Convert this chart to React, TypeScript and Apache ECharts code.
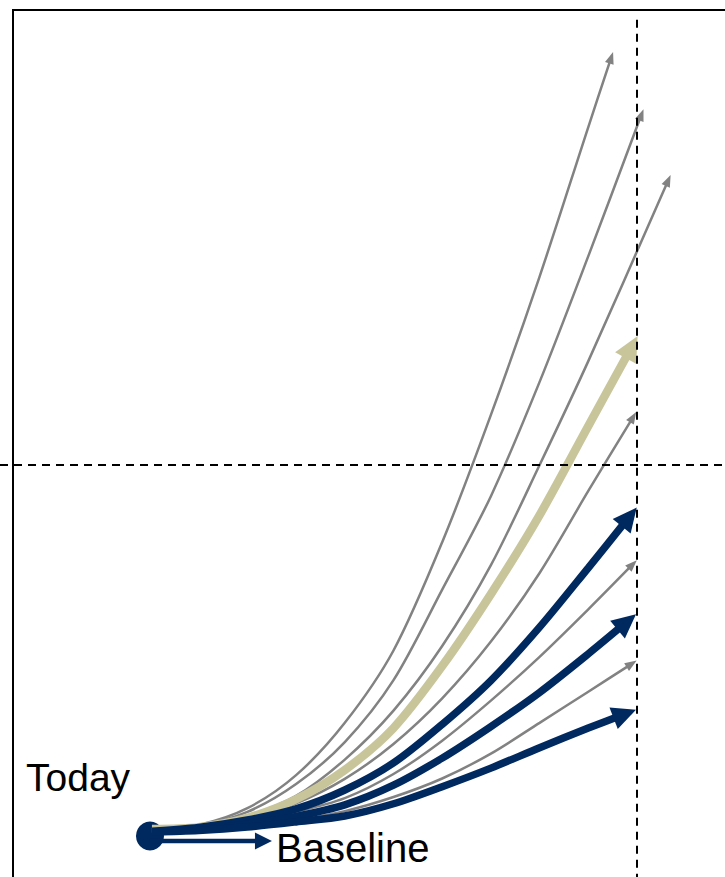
import React, { useEffect, useRef } from "react";
import * as echarts from "echarts";

// Axis ranges (arbitrary units: time on x, value on y)
const X_MIN = -3.08;
const X_MAX = 11.807;
const Y_MIN = -11.05;
const Y_MAX = 225.34;
const HORIZON = 10; // vertical dashed line (time horizon)
const THRESHOLD = 100; // horizontal dashed line
const V_LINE_TOP = 220;

const labels = { today: "Today", baseline: "Baseline" };

// Scenario paths (x = time, y = value)
const grayA = [[0.04, 1.9], [1, 3.0], [2, 7.5], [3, 16.4], [4, 30.5], [5, 50.0], [6, 79.2], [7, 113.5], [8, 150.8], [9, 191.1], [9.47, 209.8]];
const grayB = [[0.04, 1.9], [1, 2.8], [2, 6.5], [3, 14.0], [4, 25.3], [5, 42.0], [6, 66.4], [7, 91.6], [8, 122.4], [9, 156.3], [10.09, 194.4]];
const grayC = [[0.04, 1.9], [1, 2.5], [2, 5.4], [3, 10.8], [4, 20.6], [5, 33.8], [6, 51.2], [7, 73.0], [8, 100], [9, 128.0], [10.64, 176.7]];
const khakiPath = [[0.04, 1.9], [1, 2.4], [2, 4.9], [3, 9.9], [4, 17.8], [5, 29.1], [6, 45.8], [7, 65.2], [8, 86.5], [9, 110.5], [9.89, 131.8]];
const grayD = [[0.04, 1.9], [1, 2.4], [2, 4.6], [3, 8.8], [4, 15.4], [5, 24.8], [6, 37.1], [7, 52.4], [8, 70.9], [9, 93.0], [9.92, 112.9]];
const navyA = [[0.04, 1.3], [1, 2.3], [2, 4.3], [3, 7.3], [4, 12.4], [5, 19.7], [6, 30.1], [7, 41.9], [8, 56.3], [9, 72.3], [9.84, 86.0]];
const grayE = [[0.04, 1.3], [1, 2.2], [2, 3.9], [3, 6.5], [4, 10.2], [5, 16.7], [6, 25.7], [7, 36.5], [8, 48.3], [9, 61.1], [9.91, 73.2]];
const navyB = [[0.04, 1.1], [1, 1.8], [2, 3.2], [3, 5.3], [4, 8.4], [5, 13.7], [6, 21.0], [7, 29.5], [8, 38.7], [9, 49.1], [9.79, 57.7]];
const grayF = [[0.04, 1.1], [1, 1.6], [2, 2.7], [3, 4.3], [4, 6.7], [5, 10.5], [6, 15.5], [7, 22.2], [8, 30.5], [9, 38.9], [9.89, 46.4]];
const navyC = [[0.04, 1.1], [1, 1.5], [2, 2.4], [3, 3.8], [4, 5.4], [5, 8.7], [6, 13.3], [7, 18.3], [8, 23.8], [9, 29.1], [9.75, 32.9]];
const baselinePath = [[0, -1.35], [2.33, -1.35]];
const todayPoint = [[0, 0]];

const GRAY = "#828282";
const KHAKI = "#C9C59B";
const NAVY = "#00295F";

const curves = [
  { data: grayA, color: GRAY, width: 2.5, head: [9, 12], z: 2 },
  { data: grayB, color: GRAY, width: 2.5, head: [9, 12], z: 2 },
  { data: grayC, color: GRAY, width: 2.5, head: [9, 12], z: 2 },
  { data: grayD, color: GRAY, width: 2.5, head: [9, 12], z: 2 },
  { data: grayE, color: GRAY, width: 2.5, head: [9, 12], z: 2 },
  { data: grayF, color: GRAY, width: 2.5, head: [9, 12], z: 2 },
  { data: khakiPath, color: KHAKI, width: 8.5, head: [24, 25], z: 3 },
  { data: navyA, color: NAVY, width: 7.5, head: [23, 24], z: 4 },
  { data: navyB, color: NAVY, width: 7.5, head: [23, 24], z: 4 },
  { data: navyC, color: NAVY, width: 7.5, head: [23, 24], z: 4 },
  { data: baselinePath, color: NAVY, width: 4.5, head: [17, 17], z: 4, straight: true },
];

function buildOption(rots: number[]) {
  const lineSeries = curves.map((c, i) => ({
    type: "line",
    silent: true,
    smooth: c.straight ? false : 0.3,
    symbol: "triangle",
    showSymbol: true,
    showAllSymbol: true,
    z: c.z,
    lineStyle: { color: c.color, width: c.width, cap: "butt" },
    itemStyle: { color: c.color, borderWidth: 0, opacity: 1 },
    data: c.data.map((p, j) =>
      j === c.data.length - 1
        ? { value: p, symbol: "triangle", symbolSize: c.head, symbolRotate: rots[i] || 0 }
        : { value: p, symbol: "none" }
    ),
  }));
  const font = (s: number) => `${s}px "Liberation Sans", Arial, sans-serif`;
  return {
    animation: false,
    backgroundColor: "#ffffff",
    grid: { left: 0, right: 0, top: 0, bottom: 0 },
    xAxis: { type: "value", min: X_MIN, max: X_MAX, show: false },
    yAxis: { type: "value", min: Y_MIN, max: Y_MAX, show: false },
    graphic: [
      {
        type: "rect",
        z: 0,
        silent: true,
        shape: { x: 13, y: 10, width: 800, height: 900 },
        style: { fill: "none", stroke: "#000", lineWidth: 2 },
      },
      {
        type: "text",
        x: 26,
        y: 777,
        silent: true,
        style: { text: labels.today, font: font(39), fill: "#000", align: "left", verticalAlign: "middle" },
      },
      {
        type: "text",
        x: 276,
        y: 848,
        silent: true,
        style: { text: labels.baseline, font: font(40), fill: "#000", align: "left", verticalAlign: "middle" },
      },
    ],
    series: [
      {
        type: "scatter",
        silent: true,
        z: 1,
        symbol: "circle",
        symbolSize: [28, 29],
        itemStyle: { color: NAVY, opacity: 1 },
        data: todayPoint,
        markLine: {
          silent: true,
          symbol: ["none", "none"],
          label: { show: false },
          lineStyle: { color: "#000", width: 2, type: [8, 6] },
          data: [
            [{ coord: [X_MIN, THRESHOLD] }, { coord: [X_MAX, THRESHOLD] }],
            [{ coord: [HORIZON, V_LINE_TOP] }, { coord: [HORIZON, Y_MIN] }],
          ],
        },
      },
      ...lineSeries,
    ],
  };
}

export default function App() {
  const ref = useRef<HTMLDivElement>(null);
  useEffect(() => {
    if (!ref.current) return;
    const chart = echarts.init(ref.current, null, { renderer: "svg" });
    chart.setOption(buildOption(curves.map(() => 0)) as any);
    const rots = curves.map((c) => {
      const n = c.data.length;
      const a = chart.convertToPixel({ gridIndex: 0 }, c.data[n - 2]) as number[];
      const b = chart.convertToPixel({ gridIndex: 0 }, c.data[n - 1]) as number[];
      const ang = (Math.atan2(-(b[1] - a[1]), b[0] - a[0]) * 180) / Math.PI;
      return ang - 90;
    });
    chart.setOption(buildOption(rots) as any, true);
    return () => chart.dispose();
  }, []);
  return (
    <div
      ref={ref}
      style={{ position: "fixed", left: 0, top: 0, width: 725, height: 877, background: "#fff" }}
    />
  );
}
